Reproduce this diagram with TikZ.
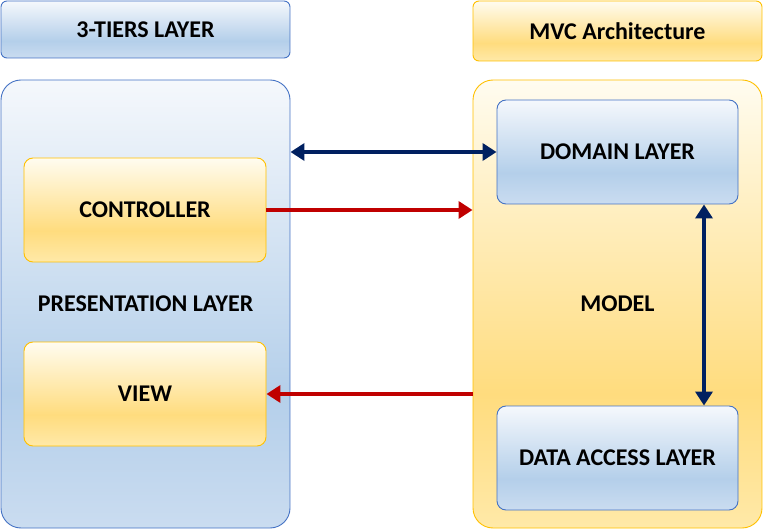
\documentclass[tikz,border=0pt]{standalone}
\usepackage{fontspec}
\setmainfont{Carlito}
\usetikzlibrary{arrows.meta}
\definecolor{btop}{HTML}{F5F8FC}
\definecolor{bmid}{HTML}{B4CFEA}
\definecolor{bbot}{HTML}{CADCF0}
\definecolor{ytop}{HTML}{FFFCF0}
\definecolor{ymid}{HTML}{FFDC7E}
\definecolor{ybot}{HTML}{FFE9A8}
\definecolor{bborder}{HTML}{4472C4}
\definecolor{yborder}{HTML}{FFC000}
\definecolor{darkblue}{HTML}{002060}
\definecolor{darkred}{HTML}{C00000}
\pgfdeclareverticalshading{blueshade}{100bp}{color(0bp)=(bbot); color(25bp)=(bbot); color(40bp)=(bmid); color(75bp)=(btop); color(100bp)=(btop)}
\pgfdeclareverticalshading{yellowshade}{100bp}{color(0bp)=(ybot); color(25bp)=(ybot); color(40bp)=(ymid); color(75bp)=(ytop); color(100bp)=(ytop)}
\tikzset{
  box/.style={draw, line width=0.9pt, font=\fontsize{24}{28}\selectfont\bfseries, text=black, align=center, inner sep=0pt},
  bluebox/.style={box, draw=bborder, shading=blueshade},
  yellowbox/.style={box, draw=yborder, shading=yellowshade},
  bluearrow/.style={draw=darkblue, line width=4.5pt, {Triangle[length=14pt,width=17pt]}-{Triangle[length=14pt,width=17pt]}},
  redarrow/.style={draw=darkred, line width=4.5pt, -{Triangle[length=14pt,width=17pt]}},
}
\begin{document}
\begin{tikzpicture}[x=1pt,y=-1pt]
\useasboundingbox (0,0) rectangle (763,529);
\node[bluebox, rounded corners=6pt, minimum width=289pt, minimum height=57pt] (tiers) at (145.5,29.5) {3-TIERS LAYER};
\node[yellowbox, rounded corners=6pt, minimum width=289pt, minimum height=60pt] (mvc) at (617.5,31) {MVC Architecture};
\node[bluebox, rounded corners=20pt, minimum width=289pt, minimum height=448pt] (pres) at (145.5,304) {PRESENTATION LAYER};
\node[yellowbox, rounded corners=20pt, minimum width=289pt, minimum height=448pt] (model) at (617.5,304) {MODEL};
\node[yellowbox, rounded corners=9pt, minimum width=242pt, minimum height=104pt] (ctrl) at (145,210) {CONTROLLER};
\node[yellowbox, rounded corners=9pt, minimum width=242pt, minimum height=104pt] (view) at (145,394) {VIEW};
\node[bluebox, rounded corners=9pt, minimum width=241pt, minimum height=104pt] (domain) at (617.5,152) {DOMAIN LAYER};
\node[bluebox, rounded corners=9pt, minimum width=241pt, minimum height=104pt] (dal) at (617.5,458) {DATA ACCESS LAYER};
\coordinate (vx) at (704,0);
\draw[bluearrow] (pres.east |- domain.west) -- (domain.west);
\draw[redarrow] (ctrl.east) -- (ctrl.east -| model.west);
\draw[redarrow] (model.west |- view.east) -- (view.east);
\draw[bluearrow] (domain.south -| vx) -- (dal.north -| vx);
\end{tikzpicture}
\end{document}
